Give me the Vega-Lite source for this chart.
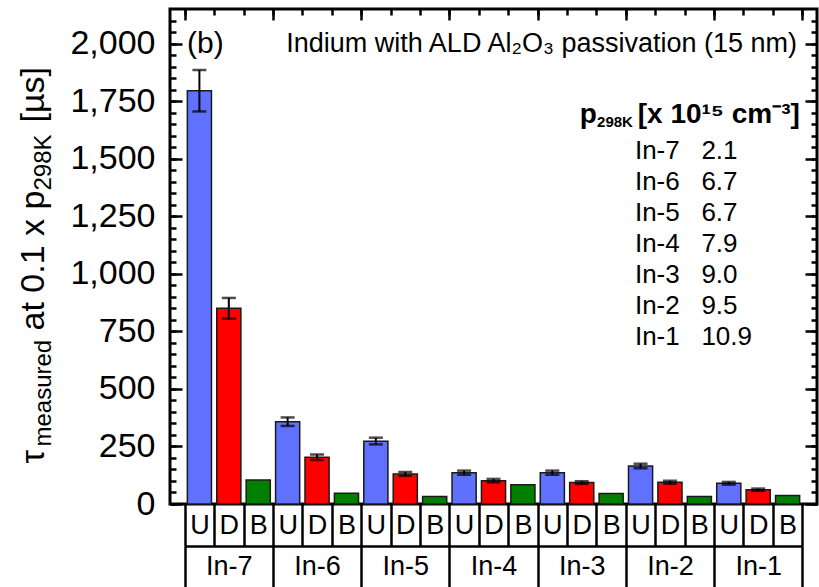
{
  "$schema": "https://vega.github.io/schema/vega-lite/v6.json",
  "width": 647,
  "height": 495,
  "autosize": {"type": "none"},
  "padding": {"left": 170, "top": 9, "right": 2, "bottom": 83},
  "background": "white",
  "config": {
    "font": "Liberation Sans",
    "view": {"stroke": "black", "strokeWidth": 3},
    "axis": {"grid": false, "labelColor": "black", "titleColor": "black", "tickColor": "black", "domainColor": "black", "titleFontWeight": "normal", "labelFont": "Liberation Sans", "titleFont": "Liberation Sans"}
  },
  "datasets": {
    "bars": [
      {"group": "In-7", "type": "U", "slot": "In-7 U", "v": 1795, "lo": 1705, "hi": 1885},
      {"group": "In-7", "type": "D", "slot": "In-7 D", "v": 850, "lo": 805, "hi": 895},
      {"group": "In-7", "type": "B", "slot": "In-7 B", "v": 104, "lo": null, "hi": null},
      {"group": "In-6", "type": "U", "slot": "In-6 U", "v": 357, "lo": 339, "hi": 376},
      {"group": "In-6", "type": "D", "slot": "In-6 D", "v": 203, "lo": 191, "hi": 215},
      {"group": "In-6", "type": "B", "slot": "In-6 B", "v": 47, "lo": null, "hi": null},
      {"group": "In-5", "type": "U", "slot": "In-5 U", "v": 273, "lo": 259, "hi": 288},
      {"group": "In-5", "type": "D", "slot": "In-5 D", "v": 130, "lo": 122, "hi": 139},
      {"group": "In-5", "type": "B", "slot": "In-5 B", "v": 33, "lo": null, "hi": null},
      {"group": "In-4", "type": "U", "slot": "In-4 U", "v": 136, "lo": 127, "hi": 145},
      {"group": "In-4", "type": "D", "slot": "In-4 D", "v": 101, "lo": 94, "hi": 109},
      {"group": "In-4", "type": "B", "slot": "In-4 B", "v": 84, "lo": null, "hi": null},
      {"group": "In-3", "type": "U", "slot": "In-3 U", "v": 136, "lo": 127, "hi": 145},
      {"group": "In-3", "type": "D", "slot": "In-3 D", "v": 93, "lo": 87, "hi": 99},
      {"group": "In-3", "type": "B", "slot": "In-3 B", "v": 46, "lo": null, "hi": null},
      {"group": "In-2", "type": "U", "slot": "In-2 U", "v": 165, "lo": 155, "hi": 175},
      {"group": "In-2", "type": "D", "slot": "In-2 D", "v": 95, "lo": 88, "hi": 101},
      {"group": "In-2", "type": "B", "slot": "In-2 B", "v": 33, "lo": null, "hi": null},
      {"group": "In-1", "type": "U", "slot": "In-1 U", "v": 90, "lo": 84, "hi": 96},
      {"group": "In-1", "type": "D", "slot": "In-1 D", "v": 62, "lo": 57, "hi": 67},
      {"group": "In-1", "type": "B", "slot": "In-1 B", "v": 37, "lo": null, "hi": null}
    ],
    "groups": [
      {"group": "In-7", "p": "2.1"},
      {"group": "In-6", "p": "6.7"},
      {"group": "In-5", "p": "6.7"},
      {"group": "In-4", "p": "7.9"},
      {"group": "In-3", "p": "9.0"},
      {"group": "In-2", "p": "9.5"},
      {"group": "In-1", "p": "10.9"}
    ]
  },
  "resolve": {
    "scale": {"x": "independent", "y": "independent"},
    "axis": {"x": "independent", "y": "independent"}
  },
  "layer": [
    {
      "data": {"name": "bars"},
      "mark": {"type": "bar", "width": {"band": 0.82}, "stroke": "#1a1a1a", "strokeWidth": 1.5},
      "encoding": {
        "x": {
          "field": "slot", "type": "nominal",
          "scale": {"type": "band", "domain": ["In-7 U","In-7 D","In-7 B","In-6 U","In-6 D","In-6 B","In-5 U","In-5 D","In-5 B","In-4 U","In-4 D","In-4 B","In-3 U","In-3 D","In-3 B","In-2 U","In-2 D","In-2 B","In-1 U","In-1 D","In-1 B"], "paddingInner": 0, "paddingOuter": 0.5},
          "axis": {"orient": "bottom", "title": null, "tickBand": "extent", "tickSize": 42, "tickWidth": 2.5, "domain": false, "labelExpr": "substring(datum.label, 5)", "labelFontSize": 27, "labelBaseline": "middle", "labelPadding": -21, "labelAngle": 0, "labelOverlap": false}
        },
        "y": {
          "field": "v", "type": "quantitative",
          "scale": {"domain": [0, 2150], "nice": false, "zero": false},
          "axis": {"orient": "left", "values": [0,250,500,750,1000,1250,1500,1750,2000], "format": ",.0f", "labelFontSize": 34, "labelPadding": 27, "labelOverlap": false, "tickSize": -12, "tickWidth": 2.5, "domain": false, "title": "τ", "titleFontSize": 34, "titleAngle": 270, "titleAlign": "left", "titleBaseline": "alphabetic", "titleX": -127, "titleY": 454}
        },
        "color": {"field": "type", "type": "nominal", "scale": {"domain": ["U","D","B"], "range": ["#6070ff","#ff0000","#008000"]}, "legend": null}
      }
    },
    {
      "data": {"name": "bars"},
      "transform": [{"filter": "datum.lo != null"}],
      "mark": {"type": "rule", "strokeWidth": 2, "color": "black"},
      "encoding": {
        "x": {
          "field": "slot", "type": "nominal",
          "scale": {"type": "band", "domain": ["In-7 U","In-7 D","In-7 B","In-6 U","In-6 D","In-6 B","In-5 U","In-5 D","In-5 B","In-4 U","In-4 D","In-4 B","In-3 U","In-3 D","In-3 B","In-2 U","In-2 D","In-2 B","In-1 U","In-1 D","In-1 B"], "paddingInner": 0, "paddingOuter": 0.5},
          "axis": {"orient": "top", "title": null, "tickBand": "extent", "tickSize": -6, "tickWidth": 2.5, "labels": false, "domain": false}
        },
        "y": {
          "field": "lo", "type": "quantitative",
          "scale": {"domain": [0, 2150], "nice": false, "zero": false},
          "axis": {"orient": "left", "values": [0,50,100,150,200,250,300,350,400,450,500,550,600,650,700,750,800,850,900,950,1000,1050,1100,1150,1200,1250,1300,1350,1400,1450,1500,1550,1600,1650,1700,1750,1800,1850,1900,1950,2000,2050,2100], "labels": false, "tickSize": -6, "tickWidth": 2.5, "domain": false, "title": "measured", "titleFontSize": 24, "titleAngle": 270, "titleAlign": "left", "titleBaseline": "alphabetic", "titleX": -120, "titleY": 437}
        },
        "y2": {"field": "hi"}
      }
    },
    {
      "data": {"name": "bars"},
      "transform": [{"filter": "datum.lo != null"}, {"fold": ["lo", "hi"], "as": ["end", "ev"]}],
      "mark": {"type": "tick", "size": 14, "thickness": 2.5, "color": "black"},
      "encoding": {
        "x": {
          "field": "slot", "type": "nominal",
          "scale": {"type": "band", "domain": ["In-7 U","In-7 D","In-7 B","In-6 U","In-6 D","In-6 B","In-5 U","In-5 D","In-5 B","In-4 U","In-4 D","In-4 B","In-3 U","In-3 D","In-3 B","In-2 U","In-2 D","In-2 B","In-1 U","In-1 D","In-1 B"], "paddingInner": 0, "paddingOuter": 0.5},
          "axis": null
        },
        "y": {
          "field": "ev", "type": "quantitative",
          "scale": {"domain": [0, 2150], "nice": false, "zero": false},
          "axis": {"orient": "right", "values": [0,250,500,750,1000,1250,1500,1750,2000], "labels": false, "tickSize": -12, "tickWidth": 2.5, "domain": false, "title": "at 0.1 x p", "titleFontSize": 34, "titleAngle": 270, "titleAlign": "left", "titleBaseline": "alphabetic", "titleX": -774, "titleY": 321}
        }
      }
    },
    {
      "data": {"name": "groups"},
      "transform": [
        {"window": [{"op": "row_number", "as": "idx"}]},
        {"calculate": "datum.group + '\u00a0\u00a0\u00a0' + datum.p", "as": "label"}
      ],
      "mark": {"type": "text", "align": "left", "baseline": "middle", "fontSize": 26, "color": "black"},
      "encoding": {
        "x": {
          "datum": "In-2", "type": "nominal", "bandPosition": 0.103,
          "scale": {"type": "band", "domain": ["In-7","In-6","In-5","In-4","In-3","In-2","In-1"], "paddingInner": 0, "paddingOuter": 0.16667},
          "axis": {"orient": "bottom", "offset": 42, "title": null, "tickBand": "extent", "tickSize": 41, "tickWidth": 2.5, "domain": true, "domainWidth": 2.5, "domainDash": [0, 14.7, 617.6, 40], "labelFontSize": 27, "labelBaseline": "middle", "labelPadding": -21, "labelAngle": 0, "labelOverlap": false}
        },
        "y": {
          "field": "idx", "type": "quantitative",
          "scale": {"domain": [-3.58, 12.39], "reverse": true, "nice": false, "zero": false},
          "axis": {"orient": "left", "ticks": false, "labels": false, "domain": false, "grid": false, "title": "298K", "titleFontSize": 24, "titleAngle": 270, "titleAlign": "left", "titleBaseline": "alphabetic", "titleX": -120, "titleY": 181}
        },
        "text": {"field": "label"}
      }
    },
    {
      "data": {"values": [{}]},
      "mark": {"type": "text", "text": "(b)", "align": "left", "baseline": "middle", "fontSize": 30, "color": "black"},
      "encoding": {
        "x": {
          "datum": "In-7", "type": "nominal", "bandPosition": 0.026,
          "scale": {"type": "band", "domain": ["In-7","In-6","In-5","In-4","In-3","In-2","In-1"], "paddingInner": 0, "paddingOuter": 0.16667},
          "axis": {"orient": "top", "title": null, "tickBand": "extent", "tickSize": -11, "tickWidth": 2.5, "labels": false, "domain": false}
        },
        "y": {
          "datum": 2000, "type": "quantitative",
          "scale": {"domain": [0, 2150], "nice": false, "zero": false},
          "axis": {"orient": "right", "values": [0,50,100,150,200,250,300,350,400,450,500,550,600,650,700,750,800,850,900,950,1000,1050,1100,1150,1200,1250,1300,1350,1400,1450,1500,1550,1600,1650,1700,1750,1800,1850,1900,1950,2000,2050,2100], "labels": false, "tickSize": -6, "tickWidth": 2.5, "domain": false, "title": "[µs]", "titleFontSize": 34, "titleAngle": 270, "titleAlign": "left", "titleBaseline": "alphabetic", "titleX": -774, "titleY": 113}
        }
      }
    },
    {
      "data": {"values": [{}]},
      "mark": {"type": "text", "text": "Indium with ALD Al₂O₃ passivation (15 nm)", "align": "right", "baseline": "middle", "fontSize": 27, "color": "black"},
      "encoding": {
        "x": {"datum": "In-1", "type": "nominal", "bandPosition": 0.94, "scale": {"type": "band", "domain": ["In-7","In-6","In-5","In-4","In-3","In-2","In-1"], "paddingInner": 0, "paddingOuter": 0.16667}, "axis": null},
        "y": {"datum": 2000, "type": "quantitative", "scale": {"domain": [0, 2150], "nice": false, "zero": false}, "axis": null}
      }
    },
    {
      "data": {"values": [{}]},
      "mark": {"type": "text", "text": "[x 10¹⁵ cm⁻³]", "align": "right", "baseline": "middle", "fontSize": 28, "fontWeight": "bold", "color": "black"},
      "encoding": {
        "x": {"datum": "In-1", "type": "nominal", "bandPosition": 0.973, "scale": {"type": "band", "domain": ["In-7","In-6","In-5","In-4","In-3","In-2","In-1"], "paddingInner": 0, "paddingOuter": 0.16667}, "axis": null},
        "y": {"datum": 1690, "type": "quantitative", "scale": {"domain": [0, 2150], "nice": false, "zero": false}, "axis": null}
      }
    },
    {
      "data": {"values": [{}]},
      "mark": {"type": "text", "text": "298K", "align": "right", "baseline": "middle", "fontSize": 15, "fontWeight": "bold", "color": "black", "dx": -167, "dy": 7},
      "encoding": {
        "x": {"datum": "In-1", "type": "nominal", "bandPosition": 0.973, "scale": {"type": "band", "domain": ["In-7","In-6","In-5","In-4","In-3","In-2","In-1"], "paddingInner": 0, "paddingOuter": 0.16667}, "axis": null},
        "y": {"datum": 1690, "type": "quantitative", "scale": {"domain": [0, 2150], "nice": false, "zero": false}, "axis": null}
      }
    },
    {
      "data": {"values": [{}]},
      "mark": {"type": "text", "text": "p", "align": "right", "baseline": "middle", "fontSize": 28, "fontWeight": "bold", "color": "black", "dx": -203},
      "encoding": {
        "x": {"datum": "In-1", "type": "nominal", "bandPosition": 0.973, "scale": {"type": "band", "domain": ["In-7","In-6","In-5","In-4","In-3","In-2","In-1"], "paddingInner": 0, "paddingOuter": 0.16667}, "axis": null},
        "y": {"datum": 1690, "type": "quantitative", "scale": {"domain": [0, 2150], "nice": false, "zero": false}, "axis": null}
      }
    }
  ]
}
